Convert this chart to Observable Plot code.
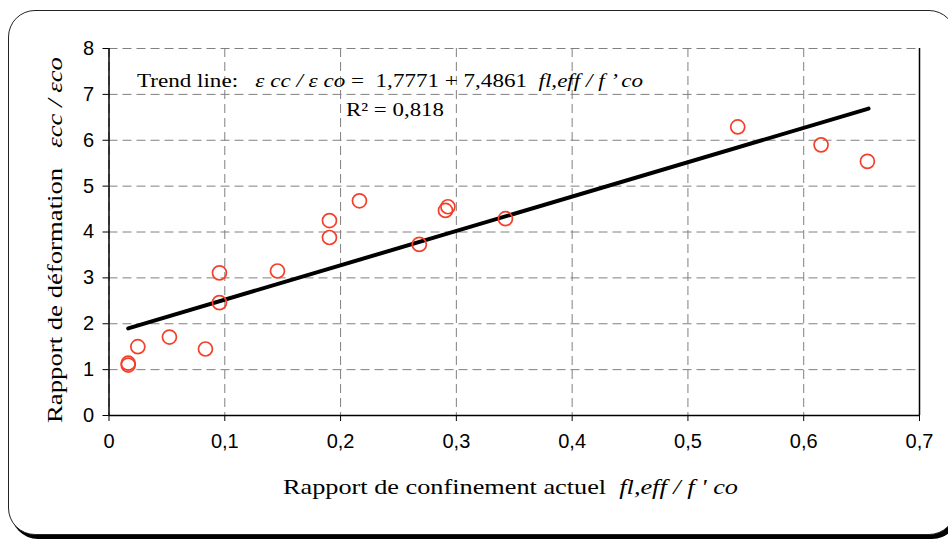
<!DOCTYPE html>
<html>
<head>
<meta charset="utf-8">
<script src="https://cdn.jsdelivr.net/npm/d3@7"></script>
<script src="https://cdn.jsdelivr.net/npm/@observablehq/plot@0.6"></script>
<style>
  html, body { margin: 0; padding: 0; background: #fff; overflow: hidden; }
  #wrap { position: relative; width: 948px; height: 540px; overflow: hidden; }
  #frame { position: absolute; left: 8px; top: 10px; width: 946px; height: 523px;
           border: 1.5px solid #222; border-radius: 27px; box-shadow: 3px 4px 0 #000; background: #fff; }
  #chart { position: absolute; left: 0; top: 0; }
</style>
</head>
<body>
<div id="wrap"><div id="frame"></div><div id="chart"></div></div>
<script>
// ---- data ----
const xTicks = [0, 0.1, 0.2, 0.3, 0.4, 0.5, 0.6, 0.7];
const yTicks = [0, 1, 2, 3, 4, 5, 6, 7, 8];
const confinement = [0.0166, 0.0166, 0.0249, 0.0522, 0.0833, 0.0954, 0.0954, 0.1455, 0.1904, 0.1904, 0.2163, 0.2680, 0.2906, 0.2927, 0.3424, 0.5430, 0.6150, 0.6550];
const deformation = [1.14, 1.10, 1.50, 1.71, 1.45, 2.46, 3.11, 3.15, 4.25, 3.88, 4.68, 3.73, 4.47, 4.55, 4.29, 6.29, 5.90, 5.54];
const trendX = [0.0166, 0.656];
const trendY = [1.90, 6.69];

const points = confinement.map((x, i) => ({x, y: deformation[i]}));
const trend = trendX.map((x, i) => ({x, y: trendY[i]}));
const fmt = d => String(d).replace(".", ",");
const gridStyle = {stroke: "#808080", strokeOpacity: 1, strokeWidth: 1, strokeDasharray: "9,5"};

const plot = Plot.plot({
  width: 948,
  height: 540,
  marginLeft: 108.5,
  marginRight: 29,
  marginTop: 48,
  marginBottom: 125,
  style: {fontFamily: "'Liberation Sans', Arial, sans-serif", fontSize: "20px", background: "transparent", color: "#000"},
  x: {domain: [0, 0.7]},
  y: {domain: [0, 8]},
  marks: [
    Plot.gridX(xTicks, gridStyle),
    Plot.gridY(yTicks, gridStyle),
    Plot.ruleX([0.7], {stroke: "#000", strokeWidth: 1.5}),
    Plot.ruleX([0], {stroke: "#000", strokeWidth: 1.5}),
    Plot.ruleY([0], {stroke: "#000", strokeWidth: 1.5}),
    Plot.axisX(xTicks, {tickFormat: fmt, tickSize: 6, tickPadding: 12, label: null, fontSize: 20, fill: "#000"}),
    Plot.axisY(yTicks, {tickFormat: fmt, tickSize: 6, tickPadding: 9, label: null, fontSize: 20, fill: "#000"}),
    Plot.line(trend, {x: "x", y: "y", stroke: "#000", strokeWidth: 4, strokeLinecap: "round"}),
    Plot.dot(points, {x: "x", y: "y", r: 7, stroke: "#f4402a", strokeWidth: 1.7, fill: "none"})
  ]
});
document.getElementById("chart").appendChild(plot);

// force tick label font size on the axis text groups
d3.select(plot).selectAll("g[aria-label$='tick label']")
  .attr("font-size", 20).style("font-size", "20px")
  .attr("font-family", "'Liberation Sans', Arial, sans-serif");

// ---- mixed-style labels (real text) ----
const svg = d3.select(plot);
const serif = "'Liberation Serif', 'Times New Roman', serif";
function label(x, y, parts, opts) {
  const t = svg.append("text")
    .attr("x", x).attr("y", y)
    .attr("font-family", serif)
    .attr("font-size", opts.size)
    .attr("fill", "#000")
    .attr("text-anchor", opts.anchor || "start")
    .style("white-space", "pre");
  if (opts.rotate) t.attr("transform", `rotate(-90 ${x} ${y})`);
  if (opts.length) t.attr("textLength", opts.length).attr("lengthAdjust", "spacingAndGlyphs");
  parts.forEach(([s, it]) => t.append("tspan").attr("font-style", it ? "italic" : "normal").text(s));
}
label(62, 240, [["Rapport de déformation   ", false], ["εcc / εco", true]], {size: 21, anchor: "middle", rotate: true, length: 366});
label(510.5, 494, [["Rapport de confinement actuel  ", false], ["fl,eff / f ' co", true]], {size: 22, anchor: "middle", length: 455});
label(137, 87, [["Trend line:   ", false], ["ε cc / ε co", true], [" =  1,7771 + 7,4861  ", false], ["fl,eff / f ’ co", true]], {size: 19, length: 506});
label(346, 116, [["R² = 0,818", false]], {size: 19, length: 98});
</script>
</body>
</html>
